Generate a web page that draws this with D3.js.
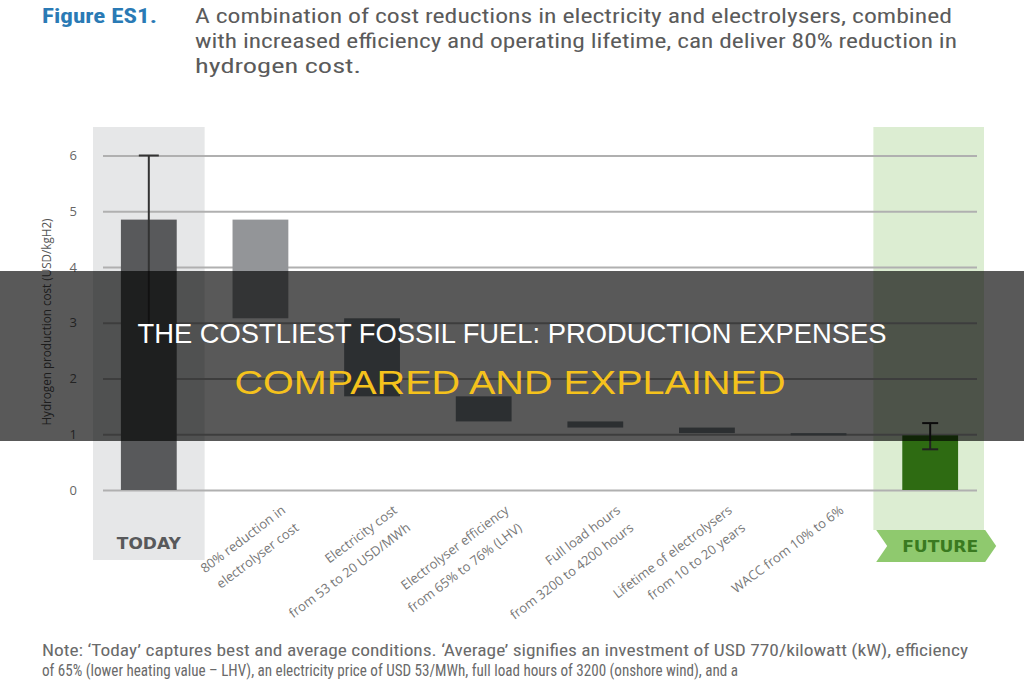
<!DOCTYPE html>
<html>
<head>
<meta charset="utf-8">
<script src="https://cdn.jsdelivr.net/npm/d3@7"></script>
<style>
  body { margin: 0; background: #fff; }
  svg { display: block; }
</style>
</head>
<body>
<div id="chart"></div>
<script>
// chart values
const categories = ["TODAY", "Electrolyser cost", "Electricity cost", "Efficiency", "Full load hours", "Lifetime", "WACC", "FUTURE"];
const stepLabels = [
  ["80% reduction in", "electrolyser cost"],
  ["Electricity cost", "from 53 to 20 USD/MWh"],
  ["Electrolyser efficiency", "from 65% to 76% (LHV)"],
  ["Full load hours", "from 3200 to 4200 hours"],
  ["Lifetime of electrolysers", "from 10 to 20 years"],
  ["WACC from 10% to 6%"]
];
const todayCost = 4.85;
const todayRange = [2.9, 6.0];
const stepDeltas = [-1.77, -1.40, -0.45, -0.11, -0.10, -0.04];
const futureCost = 0.98;
const futureRange = [0.73, 1.2];
const yTicks = [0, 1, 2, 3, 4, 5, 6];

const titleLines = [
  "A combination of cost reductions in electricity and electrolysers, combined",
  "with increased efficiency and operating lifetime, can deliver 80% reduction in",
  "hydrogen cost."
];
const noteLines = [
  "Note: \u2018Today\u2019 captures best and average conditions. \u2018Average\u2019 signifies an investment of USD 770/kilowatt (kW), efficiency",
  "of 65% (lower heating value \u2013 LHV), an electricity price of USD 53/MWh, full load hours of 3200 (onshore wind), and a"
];
const bannerTop = "THE COSTLIEST FOSSIL FUEL: PRODUCTION EXPENSES";
const bannerBottom = "COMPARED AND EXPLAINED";

let config = { width: 1024, height: 680, plotLeft: 93, plotRight: 986, gridLeft: 103, gridRight: 977, y0: 490, y6: 155.5 };

const svg = d3.select("#chart").append("svg")
  .attr("width", config.width)
  .attr("height", config.height);

const x = d3.scaleBand()
  .domain(categories)
  .range([config.plotLeft, config.plotRight])
  .paddingInner(0.5)
  .paddingOuter(0.25);
const y = d3.scaleLinear().domain([0, 6]).range([config.y0, config.y6]);
const step = x.step();
const cx = c => x(c) + x.bandwidth() / 2;

// header
const narrow = "'Liberation Sans Narrow', 'Roboto Condensed', Roboto, sans-serif";
svg.append("text")
  .attr("x", 42).attr("y", 23)
  .attr("font-family", narrow).attr("font-weight", "bold").attr("font-size", 20)
  .attr("fill", "#2a7ab5")
  .attr("textLength", 115).attr("lengthAdjust", "spacingAndGlyphs")
  .text("Figure ES1.");
const titleWidths = [757, 762, 166];
svg.selectAll(".title-line").data(titleLines).enter().append("text")
  .attr("class", "title-line")
  .attr("x", 195).attr("y", (d, i) => 23 + i * 25)
  .attr("font-family", narrow).attr("font-size", 20)
  .attr("fill", "#5b5b5b")
  .attr("textLength", (d, i) => titleWidths[i]).attr("lengthAdjust", "spacingAndGlyphs")
  .text(d => d);

// highlight columns
svg.append("rect")
  .attr("x", cx("TODAY") - step / 2).attr("y", 127)
  .attr("width", step).attr("height", 560 - 127)
  .attr("fill", "#e6e7e8");
svg.append("rect")
  .attr("x", cx("FUTURE") - step / 2 - 1).attr("y", 127)
  .attr("width", step - 1).attr("height", 530 - 127)
  .attr("fill", "#dcedd2");

// y axis with grid
const yAxis = svg.append("g")
  .attr("transform", `translate(${config.gridLeft},0)`)
  .call(d3.axisLeft(y).tickValues(yTicks).tickFormat(d3.format("d"))
    .tickSize(-(config.gridRight - config.gridLeft)).tickPadding(26));
yAxis.select(".domain").remove();
yAxis.selectAll(".tick line").attr("stroke", "#b0b0b0").attr("stroke-width", 2);
yAxis.selectAll(".tick text")
  .attr("font-family", "'Open Sans', sans-serif").attr("font-size", 13).attr("fill", "#666");

svg.append("text")
  .attr("transform", "translate(51,322) rotate(-90)")
  .attr("text-anchor", "middle")
  .attr("font-family", "'Open Sans', sans-serif").attr("font-size", 12).attr("fill", "#555")
  .attr("textLength", 207).attr("lengthAdjust", "spacingAndGlyphs")
  .text("Hydrogen production cost (USD/kgH2)");

// waterfall steps
let running = todayCost;
const steps = stepDeltas.map((d, i) => {
  const s = { key: categories[i + 1], from: running, to: running + d, label: stepLabels[i] };
  running += d;
  return s;
});

svg.append("rect")
  .attr("x", x("TODAY")).attr("y", y(todayCost))
  .attr("width", x.bandwidth()).attr("height", y(0) - y(todayCost))
  .attr("fill", "#58595b");

svg.selectAll(".step").data(steps).enter().append("rect")
  .attr("class", "step")
  .attr("x", d => x(d.key)).attr("y", d => y(d.from))
  .attr("width", x.bandwidth()).attr("height", d => y(d.to) - y(d.from))
  .attr("fill", (d, i) => i === 0 ? "#939598" : "#7f878d");

svg.append("rect")
  .attr("x", x("FUTURE")).attr("y", y(futureCost))
  .attr("width", x.bandwidth()).attr("height", y(0) - y(futureCost))
  .attr("fill", "#2e6b12");

// error bars
const errLine = svg.append("g").attr("stroke", "#333").attr("stroke-width", 2);
errLine.append("line")
  .attr("x1", cx("TODAY")).attr("x2", cx("TODAY"))
  .attr("y1", y(todayRange[0])).attr("y2", y(todayRange[1]));
errLine.append("line")
  .attr("x1", cx("TODAY") - 10).attr("x2", cx("TODAY") + 10)
  .attr("y1", y(todayRange[1])).attr("y2", y(todayRange[1]));
const errF = svg.append("g").attr("stroke", "#222").attr("stroke-width", 2);
errF.append("line")
  .attr("x1", cx("FUTURE")).attr("x2", cx("FUTURE"))
  .attr("y1", y(futureRange[0])).attr("y2", y(futureRange[1]));
futureRange.forEach(v => {
  errF.append("line")
    .attr("x1", cx("FUTURE") - 8).attr("x2", cx("FUTURE") + 8)
    .attr("y1", y(v)).attr("y2", y(v));
});

// category labels
svg.append("text")
  .attr("x", cx("TODAY")).attr("y", 549)
  .attr("text-anchor", "middle")
  .attr("font-family", "'DejaVu Sans', sans-serif").attr("font-weight", "bold").attr("font-size", 16)
  .attr("fill", "#58595b")
  .attr("textLength", 64).attr("lengthAdjust", "spacingAndGlyphs")
  .text("TODAY");

const fx = cx("FUTURE");
svg.append("path")
  .attr("d", d3.line()([[fx - 54, 530], [fx + 55, 530], [fx + 66, 546], [fx + 55, 562], [fx - 54, 562], [fx - 43, 546]]) + "Z")
  .attr("fill", "#8fc96e");
svg.append("text")
  .attr("x", fx + 10).attr("y", 552)
  .attr("text-anchor", "middle")
  .attr("font-family", "'DejaVu Sans', sans-serif").attr("font-weight", "bold").attr("font-size", 16)
  .attr("fill", "#3a7a20")
  .attr("textLength", 76).attr("lengthAdjust", "spacingAndGlyphs")
  .text("FUTURE");

const labels = svg.selectAll(".cat-label").data(steps).enter().append("text")
  .attr("class", "cat-label")
  .attr("transform", d => `translate(${cx(d.key) + 26},512) rotate(-37)`)
  .attr("text-anchor", "end")
  .attr("font-family", "'Open Sans', sans-serif").attr("font-size", 13)
  .attr("fill", "#777");
labels.selectAll("tspan").data(d => d.label).enter().append("tspan")
  .attr("x", 0).attr("y", (d, i) => i * 22)
  .text(d => d);

// note
svg.selectAll(".note").data(noteLines).enter().append("text")
  .attr("class", "note")
  .attr("x", 42).attr("y", (d, i) => 656 + i * 20)
  .attr("font-family", narrow).attr("font-size", 16)
  .attr("fill", "#6a6a6a")
  .attr("textLength", (d, i) => [926, 696][i]).attr("lengthAdjust", "spacingAndGlyphs")
  .text(d => d);

// dark banner overlay
svg.append("rect")
  .attr("x", 0).attr("y", 271)
  .attr("width", config.width).attr("height", 441 - 271)
  .attr("fill", "#000").attr("fill-opacity", 0.65);
svg.append("text")
  .attr("x", 512).attr("y", 343)
  .attr("text-anchor", "middle")
  .attr("font-family", "'Liberation Sans', Arial, sans-serif").attr("font-size", 28)
  .attr("fill", "#fff")
  .attr("textLength", 749).attr("lengthAdjust", "spacingAndGlyphs")
  .text(bannerTop);
svg.append("text")
  .attr("x", 510).attr("y", 394)
  .attr("text-anchor", "middle")
  .attr("font-family", "'Liberation Sans', Arial, sans-serif").attr("font-size", 33)
  .attr("fill", "#f5c21c")
  .attr("textLength", 551).attr("lengthAdjust", "spacingAndGlyphs")
  .text(bannerBottom);
</script>
</body>
</html>
